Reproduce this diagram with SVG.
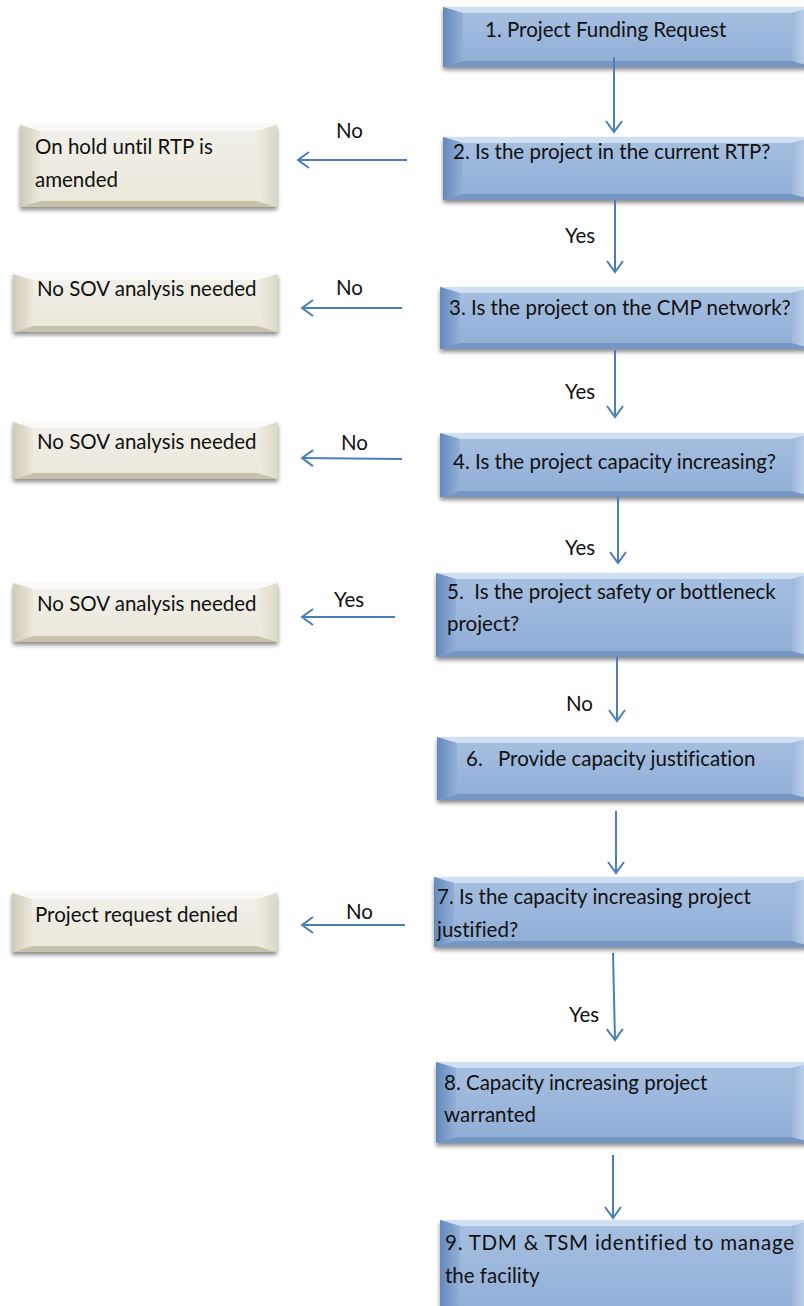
<svg xmlns="http://www.w3.org/2000/svg" width="804" height="1306" viewBox="0 0 804 1306">
<defs>
<filter id="sh" x="-5%" y="-10%" width="110%" height="130%"><feDropShadow dx="0" dy="3" stdDeviation="2" flood-color="#000" flood-opacity="0.45"/></filter>
<linearGradient id="bface" x1="0" y1="0" x2="0" y2="1"><stop offset="0" stop-color="#a7c0e1"/><stop offset="1" stop-color="#8fadd5"/></linearGradient>
<linearGradient id="bleft" x1="0" y1="0" x2="1" y2="0"><stop offset="0" stop-color="#6589bd"/><stop offset="1" stop-color="#92b0d6"/></linearGradient>
<linearGradient id="bright" x1="1" y1="0" x2="0" y2="0"><stop offset="0" stop-color="#c9dbf1"/><stop offset="1" stop-color="#9db8dc"/></linearGradient>
<linearGradient id="gface" x1="0" y1="0" x2="0" y2="1"><stop offset="0" stop-color="#f2f1ea"/><stop offset="1" stop-color="#e9e6d9"/></linearGradient>
<linearGradient id="gleft" x1="0" y1="0" x2="1" y2="0"><stop offset="0" stop-color="#cfcab5"/><stop offset="1" stop-color="#ebe8dc"/></linearGradient>
<linearGradient id="gright" x1="1" y1="0" x2="0" y2="0"><stop offset="0" stop-color="#dcd8c6"/><stop offset="1" stop-color="#eeece2"/></linearGradient>
<marker id="ah" markerUnits="userSpaceOnUse" markerWidth="20" markerHeight="20" viewBox="-14 -10 16 20" refX="0" refY="0" orient="auto"><path d="M-11,-8 L0,0 L-11,8" fill="none" stroke="#4a7ebb" stroke-width="2"/></marker>
<style>
.sh{filter:url(#sh)}
.b .face{fill:url(#bface)}
.b .bt{fill:#cfe0f4}
.b .bb{fill:#7595c2}
.b .bl{fill:url(#bleft)}
.b .br{fill:url(#bright)}
.b .sh{fill:#8eadd5}
.g .face{fill:url(#gface)}
.g .bt{fill:#fbfaf6}
.g .bb{fill:#c7c2ab}
.g .bl{fill:url(#gleft)}
.g .br{fill:url(#gright)}
.g .sh{fill:#e6e3d6}
text{font-family:Lato,"Open Sans","Liberation Sans",sans-serif;font-size:20.5px;fill:#111;font-variant-ligatures:none}
.c line{stroke:#4a7ebb;stroke-width:2;fill:none;marker-end:url(#ah)}
</style>
</defs>
<rect width="804" height="1306" fill="#fff"/>

<g id="n1" class="b">
<rect class="sh" x="443" y="7" width="369" height="60"/>
<rect class="face" x="443" y="7" width="369" height="60"/>
<polygon class="bt" points="443,7 812,7 792,13 463,13"/>
<polygon class="bb" points="443,67 812,67 792,61 463,61"/>
<polygon class="bl" points="443,7 463,13 463,61 443,67"/>
<polygon class="br" points="812,7 792,13 792,61 812,67"/>
<text x="485" y="37">1. Project Funding Request</text>
</g>

<g id="n2" class="b">
<rect class="sh" x="443" y="137" width="369" height="63"/>
<rect class="face" x="443" y="137" width="369" height="63"/>
<polygon class="bt" points="443,137 812,137 792,143 463,143"/>
<polygon class="bb" points="443,200 812,200 792,194 463,194"/>
<polygon class="bl" points="443,137 463,143 463,194 443,200"/>
<polygon class="br" points="812,137 792,143 792,194 812,200"/>
<text x="453" y="159">2. Is the project in the current RTP?</text>
</g>

<g id="n3" class="b">
<rect class="sh" x="440" y="287" width="372" height="62"/>
<rect class="face" x="440" y="287" width="372" height="62"/>
<polygon class="bt" points="440,287 812,287 792,293 460,293"/>
<polygon class="bb" points="440,349 812,349 792,343 460,343"/>
<polygon class="bl" points="440,287 460,293 460,343 440,349"/>
<polygon class="br" points="812,287 792,293 792,343 812,349"/>
<text x="449" y="315">3. Is the project on the CMP network?</text>
</g>

<g id="n4" class="b">
<rect class="sh" x="440" y="433" width="372" height="64"/>
<rect class="face" x="440" y="433" width="372" height="64"/>
<polygon class="bt" points="440,433 812,433 792,439 460,439"/>
<polygon class="bb" points="440,497 812,497 792,491 460,491"/>
<polygon class="bl" points="440,433 460,439 460,491 440,497"/>
<polygon class="br" points="812,433 792,439 792,491 812,497"/>
<text x="453" y="469">4. Is the project capacity increasing?</text>
</g>

<g id="n5" class="b">
<rect class="sh" x="436" y="573" width="376" height="84"/>
<rect class="face" x="436" y="573" width="376" height="84"/>
<polygon class="bt" points="436,573 812,573 792,579 456,579"/>
<polygon class="bb" points="436,657 812,657 792,651 456,651"/>
<polygon class="bl" points="436,573 456,579 456,651 436,657"/>
<polygon class="br" points="812,573 792,579 792,651 812,657"/>
<text x="447" y="599" xml:space="preserve">5.  Is the project safety or bottleneck</text>
<text x="447" y="631">project?</text>
</g>

<g id="n6" class="b">
<rect class="sh" x="437" y="737" width="375" height="63"/>
<rect class="face" x="437" y="737" width="375" height="63"/>
<polygon class="bt" points="437,737 812,737 792,743 457,743"/>
<polygon class="bb" points="437,800 812,800 792,794 457,794"/>
<polygon class="bl" points="437,737 457,743 457,794 437,800"/>
<polygon class="br" points="812,737 792,743 792,794 812,800"/>
<text x="466" y="766">6.</text>
<text x="498" y="766">Provide capacity justification</text>
</g>

<g id="n7" class="b">
<rect class="sh" x="434" y="877" width="378" height="70"/>
<rect class="face" x="434" y="877" width="378" height="70"/>
<polygon class="bt" points="434,877 812,877 792,883 454,883"/>
<polygon class="bb" points="434,947 812,947 792,941 454,941"/>
<polygon class="bl" points="434,877 454,883 454,941 434,947"/>
<polygon class="br" points="812,877 792,883 792,941 812,947"/>
<text x="437" y="904">7. Is the capacity increasing project</text>
<text x="437" y="937">justified?</text>
</g>

<g id="n8" class="b">
<rect class="sh" x="436" y="1062" width="376" height="81"/>
<rect class="face" x="436" y="1062" width="376" height="81"/>
<polygon class="bt" points="436,1062 812,1062 792,1068 456,1068"/>
<polygon class="bb" points="436,1143 812,1143 792,1137 456,1137"/>
<polygon class="bl" points="436,1062 456,1068 456,1137 436,1143"/>
<polygon class="br" points="812,1062 792,1068 792,1137 812,1143"/>
<text x="444" y="1090">8. Capacity increasing project</text>
<text x="444" y="1122">warranted</text>
</g>

<g id="n9" class="b">
<rect class="sh" x="440" y="1220" width="372" height="100"/>
<rect class="face" x="440" y="1220" width="372" height="100"/>
<polygon class="bt" points="440,1220 812,1220 792,1226 460,1226"/>
<polygon class="bl" points="440,1220 460,1226 460,1314 440,1320"/>
<polygon class="br" points="812,1220 792,1226 792,1314 812,1320"/>
<text x="445" y="1250" textLength="349" lengthAdjust="spacing">9. TDM &amp; TSM identified to manage</text>
<text x="445" y="1283">the facility</text>
</g>

<g id="l1" class="g">
<rect class="sh" x="20" y="125" width="257" height="82"/>
<rect class="face" x="20" y="125" width="257" height="82"/>
<polygon class="bt" points="20,125 277,125 257,131 40,131"/>
<polygon class="bb" points="20,207 277,207 257,201 40,201"/>
<polygon class="bl" points="20,125 40,131 40,201 20,207"/>
<polygon class="br" points="277,125 257,131 257,201 277,207"/>
<text x="35" y="154">On hold until RTP is</text>
<text x="35" y="187">amended</text>
</g>

<g id="l2" class="g">
<rect class="sh" x="13" y="274" width="265" height="58"/>
<rect class="face" x="13" y="274" width="265" height="58"/>
<polygon class="bt" points="13,274 278,274 258,280 33,280"/>
<polygon class="bb" points="13,332 278,332 258,326 33,326"/>
<polygon class="bl" points="13,274 33,280 33,326 13,332"/>
<polygon class="br" points="278,274 258,280 258,326 278,332"/>
<text x="37" y="296">No SOV analysis needed</text>
</g>

<g id="l3" class="g">
<rect class="sh" x="13" y="422" width="265" height="57"/>
<rect class="face" x="13" y="422" width="265" height="57"/>
<polygon class="bt" points="13,422 278,422 258,428 33,428"/>
<polygon class="bb" points="13,479 278,479 258,473 33,473"/>
<polygon class="bl" points="13,422 33,428 33,473 13,479"/>
<polygon class="br" points="278,422 258,428 258,473 278,479"/>
<text x="37" y="449">No SOV analysis needed</text>
</g>

<g id="l4" class="g">
<rect class="sh" x="13" y="583" width="265" height="59"/>
<rect class="face" x="13" y="583" width="265" height="59"/>
<polygon class="bt" points="13,583 278,583 258,589 33,589"/>
<polygon class="bb" points="13,642 278,642 258,636 33,636"/>
<polygon class="bl" points="13,583 33,589 33,636 13,642"/>
<polygon class="br" points="278,583 258,589 258,636 278,642"/>
<text x="37" y="611">No SOV analysis needed</text>
</g>

<g id="l5" class="g">
<rect class="sh" x="12" y="893" width="265" height="59"/>
<rect class="face" x="12" y="893" width="265" height="59"/>
<polygon class="bt" points="12,893 277,893 257,899 32,899"/>
<polygon class="bb" points="12,952 277,952 257,946 32,946"/>
<polygon class="bl" points="12,893 32,899 32,946 12,952"/>
<polygon class="br" points="277,893 257,899 257,946 277,952"/>
<text x="35" y="922">Project request denied</text>
</g>

<g id="connectors" class="c">
<line x1="614" y1="57" x2="614" y2="132"/>
<line x1="615" y1="200" x2="615" y2="272"/>
<line x1="615" y1="350" x2="615" y2="417"/>
<line x1="618" y1="497" x2="618" y2="563"/>
<line x1="617" y1="657" x2="617" y2="721"/>
<line x1="616" y1="811" x2="616" y2="873"/>
<line x1="613" y1="953" x2="615" y2="1040"/>
<line x1="613" y1="1155" x2="613" y2="1218"/>
<line x1="407" y1="160" x2="298" y2="160"/>
<line x1="402" y1="308" x2="302" y2="308"/>
<line x1="402" y1="459" x2="302" y2="458"/>
<line x1="395" y1="617" x2="302" y2="617"/>
<line x1="405" y1="925" x2="302" y2="925"/>
</g>

<g id="labels">
<text x="336" y="138">No</text>
<text x="336" y="295">No</text>
<text x="341" y="450">No</text>
<text x="334" y="607">Yes</text>
<text x="346" y="919">No</text>
<text x="565" y="243">Yes</text>
<text x="565" y="399">Yes</text>
<text x="565" y="555">Yes</text>
<text x="566" y="711">No</text>
<text x="569" y="1022">Yes</text>
</g>
</svg>
